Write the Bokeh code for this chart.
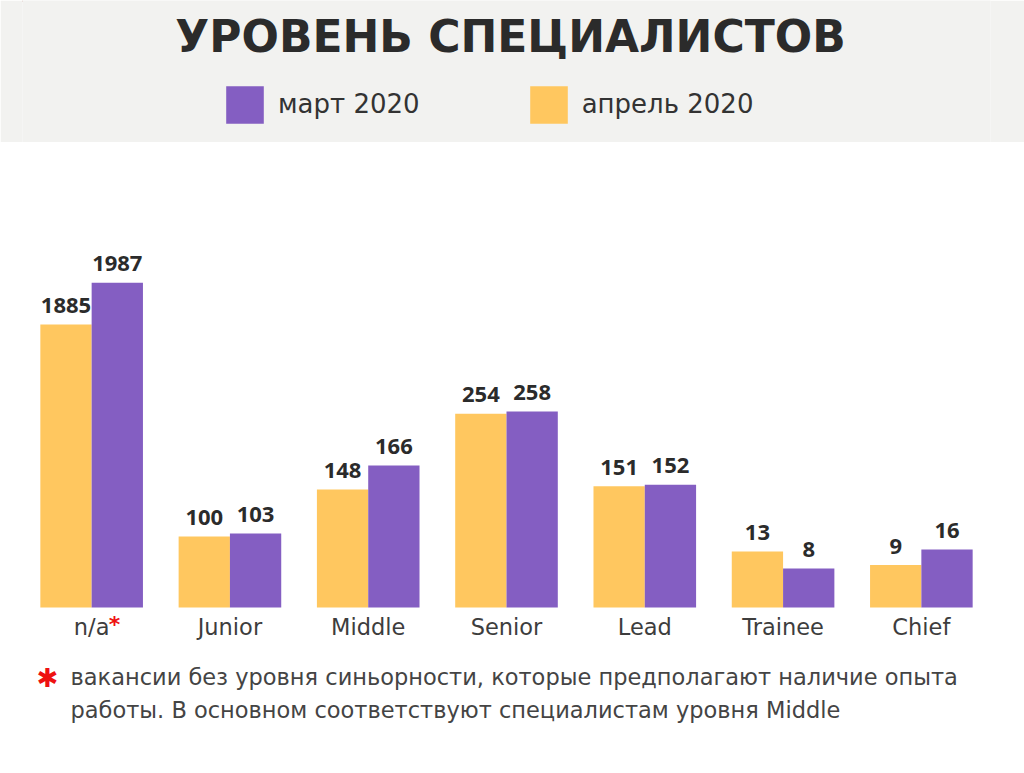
from bokeh.plotting import figure
from bokeh.models import (ColumnDataSource, FactorRange, Range1d, Legend,
                          LegendItem, LinearInterpolator)
from bokeh.transform import dodge, transform
from bokeh.layouts import column
from bokeh.core.properties import value
from bokeh.embed import file_html
from bokeh.resources import INLINE

# ---------------- data ----------------
categories = ["n/a", "Junior", "Middle", "Senior", "Lead", "Trainee", "Chief"]
march_2020 = [1987, 103, 166, 258, 152, 8, 16]
april_2020 = [1885, 100, 148, 254, 151, 13, 9]
series_labels = ["март 2020", "апрель 2020"]
title_text = "УРОВЕНЬ СПЕЦИАЛИСТОВ"
footnote_lines = [
    "вакансии без уровня синьорности, которые предполагают наличие опыта",
    "работы. В основном соответствуют специалистам уровня Middle",
]
marked_category = "n/a"   # category carrying the footnote asterisk

# The original chart draws its value axis on a non-linear (broken) scale.
# Breakpoints of that scale: value -> drawn height in pixels.
scale_values = [0, 8, 13, 16, 100, 150, 166, 258, 1885, 2000]
scale_heights = [0, 39, 56, 58, 71, 120, 142, 196, 283, 330]

PURPLE = "#845ec2"
YELLOW = "#ffc75f"
RED = "#ee1111"
HEADER_BG = "#f2f2f0"
W = 1024
HEADER_H = 142
MAIN_H = 508
FOOT_H = 123
FL, FR = 22, 34          # left / right borders of the bar chart frame
XR = (FL, W - FR)        # header/footer frames get aligned to the same edges

# ---------------- header: title + legend ----------------
header = figure(width=W, height=HEADER_H, x_range=Range1d(*XR), y_range=Range1d(HEADER_H, 0),
                title=None, output_backend="svg", toolbar_location=None, min_border=0,
                x_axis_location=None, y_axis_location=None,
                background_fill_color=HEADER_BG, border_fill_color=HEADER_BG,
                outline_line_color=None)
header.grid.visible = False
header.text(x=[510], y=[36], text=[title_text], text_font=value("DejaVu Sans"),
            text_font_style="bold", text_font_size="44px", text_align="center",
            text_baseline="alphabetic", text_color="#2b2b2b")

# legend-only renderers (kept outside the visible range)
r_mar = header.vbar(x=[-100], top=[1], width=1, fill_color=PURPLE, line_color=None)
r_apr = header.vbar(x=[-100], top=[1], width=1, fill_color=YELLOW, line_color=None)
legend = Legend(items=[LegendItem(label=series_labels[0], renderers=[r_mar]),
                       LegendItem(label=series_labels[1], renderers=[r_apr])],
                orientation="horizontal", location=(199, 14.4),
                glyph_width=47, glyph_height=47, label_standoff=10, spacing=105,
                padding=0, margin=0, background_fill_alpha=0, border_line_color=None,
                label_text_font="DejaVu Sans", label_text_font_size="26px",
                label_text_color="#333333")
header.add_layout(legend)

# ---------------- main chart ----------------
src = ColumnDataSource(dict(
    cat=categories, mar=march_2020, apr=april_2020,
    mar_txt=[str(v) for v in march_2020], apr_txt=[str(v) for v in april_2020]))
interp = LinearInterpolator(x=scale_values, y=scale_heights)

main = figure(width=W, height=MAIN_H, x_range=FactorRange(*categories, range_padding=0),
              y_range=Range1d(-43, 457), title=None, output_backend="svg",
              toolbar_location=None, y_axis_location=None,
              min_border_left=FL, min_border_right=FR, min_border_top=8, min_border_bottom=0,
              outline_line_color=None, background_fill_color="white",
              border_fill_color="white")
main.grid.visible = False

bw = 0.371
off = 0.1855
main.vbar(x=dodge("cat", -off, range=main.x_range), top=transform("apr", interp), width=bw,
          fill_color=YELLOW, line_color=None, source=src)
main.vbar(x=dodge("cat", off, range=main.x_range), top=transform("mar", interp), width=bw,
          fill_color=PURPLE, line_color=None, source=src)

for fld, txt, o in (("apr", "apr_txt", -off), ("mar", "mar_txt", off)):
    main.text(x=dodge("cat", o, range=main.x_range), y=transform(fld, interp), text=txt,
              y_offset=-19, text_align="center", text_baseline="alphabetic",
              text_font=value("Open Sans"), text_font_style="bold", text_font_size="22px",
              text_color="#2b2b2b", source=src)

ax = main.xaxis[0]
ax.fixed_location = 0
ax.axis_line_color = None
ax.major_tick_line_color = None
ax.minor_tick_line_color = None
ax.major_tick_in = 0
ax.major_tick_out = 0
ax.major_label_standoff = 6
ax.major_label_text_font = "DejaVu Sans"
ax.major_label_text_font_size = "22.5px"
ax.major_label_text_color = "#3d3d3d"

# red asterisk after the "n/a" tick label
main.text(x=[marked_category], y=[0], text=["*"], x_offset=17, y_offset=16.5,
          text_align="left", text_baseline="alphabetic", text_font=value("DejaVu Sans"),
          text_font_style="bold", text_font_size="22px", text_color=RED)

# ---------------- footnote ----------------
foot = figure(width=W, height=FOOT_H, x_range=Range1d(*XR), y_range=Range1d(FOOT_H, 0),
              title=None, output_backend="svg", toolbar_location=None, min_border=0,
              x_axis_location=None, y_axis_location=None, outline_line_color=None,
              background_fill_color="white", border_fill_color="white")
foot.grid.visible = False
foot.text(x=[47], y=[27], text=["✱"], text_font=value("DejaVu Sans"), text_font_style="bold",
          text_font_size="26px", text_color=RED, text_align="center",
          text_baseline="middle")
foot.text(x=[70, 70], y=[26.5, 59], text=footnote_lines, text_font=value("DejaVu Sans"),
          text_font_size="22.5px", text_color="#444444", text_baseline="alphabetic")

layout = column(header, main, foot, spacing=0)
open("out.html", "w").write(file_html(layout, INLINE))
